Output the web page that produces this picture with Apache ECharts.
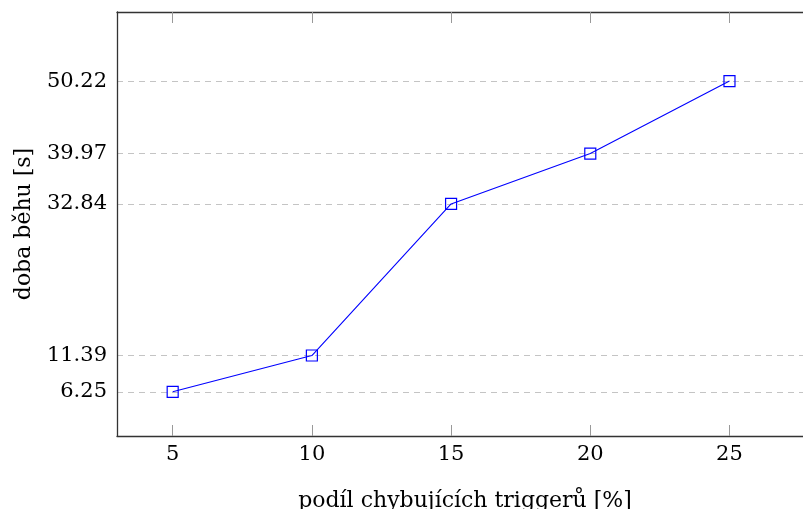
<!DOCTYPE html>
<html lang="cs">
<head>
    <meta charset="UTF-8">
    <title>doba běhu</title>
    <script src="https://cdn.jsdelivr.net/npm/echarts@6/dist/echarts.min.js"></script>
    <style>
        html, body { margin: 0; padding: 0; background: #fff; }
        #chart { width: 803px; height: 509px; }
    </style>
</head>
<body>
<div id="chart"></div>
<script>
    // podíl chybujících triggerů [%]
    const failShare = [5, 10, 15, 20, 25];
    // doba běhu [s]
    const runTime = [6.25, 11.39, 32.84, 39.97, 50.22];
    const xTicks = [5, 10, 15, 20, 25];
    const yTicks = [6.25, 11.39, 32.84, 39.97, 50.22];

    const font = 'DejaVu Serif';
    const fontSize = 21;
    const axisColor = '#333';
    const tickColor = '#999';

    const chart = echarts.init(document.getElementById('chart'));
    chart.setOption({
        animation: false,
        textStyle: { fontFamily: font },
        grid: { left: 117, top: 12, width: 696, height: 424, containLabel: false, outerBoundsMode: 'none' },
        xAxis: [
            {
                type: 'value',
                position: 'bottom',
                min: 3,
                max: 28,
                name: 'podíl chybujících triggerů [%]',
                nameLocation: 'middle',
                nameGap: 54,
                nameTextStyle: { fontFamily: font, fontSize: 22, color: '#000' },
                axisLine: { show: true, lineStyle: { color: axisColor, width: 1.3 } },
                axisTick: { show: true, inside: true, length: 11, customValues: xTicks, lineStyle: { color: tickColor } },
                axisLabel: { customValues: xTicks, fontFamily: font, fontSize: fontSize, color: '#000', margin: 8 },
                splitLine: { show: false }
            },
            {
                type: 'value',
                position: 'top',
                min: 3,
                max: 28,
                axisLine: { show: true, lineStyle: { color: axisColor, width: 1.3 } },
                axisTick: { show: true, inside: true, length: 11, customValues: xTicks, lineStyle: { color: tickColor } },
                axisLabel: { show: false },
                splitLine: { show: false }
            }
        ],
        yAxis: {
            type: 'value',
            min: 0,
            max: 60,
            name: 'doba běhu [s]',
            nameLocation: 'middle',
            nameGap: 82,
            nameTextStyle: { fontFamily: font, fontSize: 22, color: '#000' },
            axisLine: { show: true, lineStyle: { color: axisColor, width: 1.3 } },
            axisTick: { show: false, customValues: yTicks },
            axisLabel: {
                customValues: yTicks,
                fontFamily: font,
                fontSize: fontSize,
                color: '#000',
                margin: 10,
                formatter: v => v.toFixed(2)
            },
            splitLine: { show: true, lineStyle: { color: '#c4c4c4', type: [6, 5], width: 1 } }
        },
        series: [{
            type: 'line',
            xAxisIndex: 0,
            data: failShare.map((x, i) => [x, runTime[i]]),
            symbol: 'rect',
            symbolSize: 11,
            lineStyle: { color: '#0000ff', width: 1.1 },
            itemStyle: { color: 'transparent', borderColor: '#0000ff', borderWidth: 1.2 }
        }]
    });
</script>
</body>
</html>
